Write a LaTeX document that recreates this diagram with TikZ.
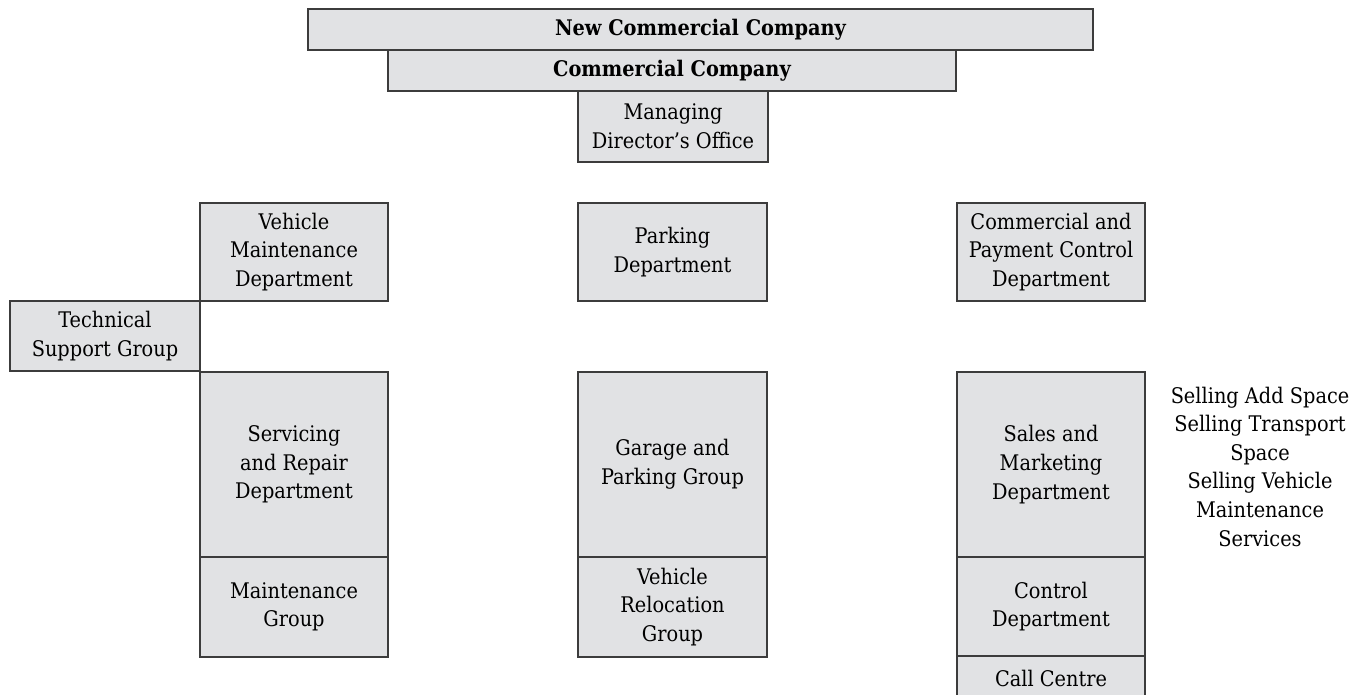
\documentclass[tikz,border=0pt]{standalone}
\usepackage{fontspec}
\setmainfont{DejaVu Serif Condensed}
\definecolor{boxfill}{HTML}{E1E2E4}
\definecolor{boxline}{HTML}{3C3C3C}
\newcommand{\boxfont}{\fontsize{21.5pt}{28.6pt}\selectfont}
\begin{document}
\begin{tikzpicture}[x=1pt,y=-1pt,
  box/.style={draw=boxline, fill=boxfill, line width=1.2pt, align=center, inner sep=0pt, font=\boxfont, text=black},
  plain/.style={align=center, inner sep=0pt, font=\boxfont, text=black}]
\useasboundingbox (0,0) rectangle (1361,695);
\node[box, minimum width=785pt, minimum height=41pt, font=\boxfont\bfseries] (nc) at (700.5,29.5) {New Commercial Company};
\node[box, minimum width=568pt, minimum height=41pt, font=\boxfont\bfseries] (cc) at (672,70.5) {Commercial Company};
\node[box, minimum width=190pt, minimum height=71pt] (mdo) at (673,126.5) {Managing\\Director’s Office};
\node[box, minimum width=188pt, minimum height=98pt] (vmd) at (294,252) {Vehicle\\Maintenance\\Department};
\node[box, minimum width=189pt, minimum height=98pt] (pd) at (672.5,252) {Parking\\Department};
\node[box, minimum width=188pt, minimum height=98pt] (cpc) at (1051,252) {Commercial and\\Payment Control\\Department};
\node[box, minimum width=190pt, minimum height=70pt] (tsg) at (105,336) {Technical\\Support Group};
\node[box, minimum width=188pt, minimum height=185pt] (srd) at (294,464.5) {Servicing\\and Repair\\Department};
\node[box, minimum width=188pt, minimum height=100pt] (mg) at (294,607) {Maintenance\\Group};
\node[box, minimum width=189pt, minimum height=185pt] (gpg) at (672.5,464.5) {Garage and\\Parking Group};
\node[box, minimum width=189pt, minimum height=100pt] (vrg) at (672.5,607) {Vehicle\\Relocation\\Group};
\node[box, minimum width=188pt, minimum height=185pt] (smd) at (1051,464.5) {Sales and\\Marketing\\Department};
\node[box, minimum width=188pt, minimum height=99pt] (cd) at (1051,606.5) {Control\\Department};
\node[box, minimum width=188pt, minimum height=44pt] (ccn) at (1051,678) {Call Centre};
\node[plain] (side) at (1260,466.5) {Selling Add Space\\Selling Transport\\Space\\Selling Vehicle\\Maintenance\\Services};
\end{tikzpicture}
\end{document}
